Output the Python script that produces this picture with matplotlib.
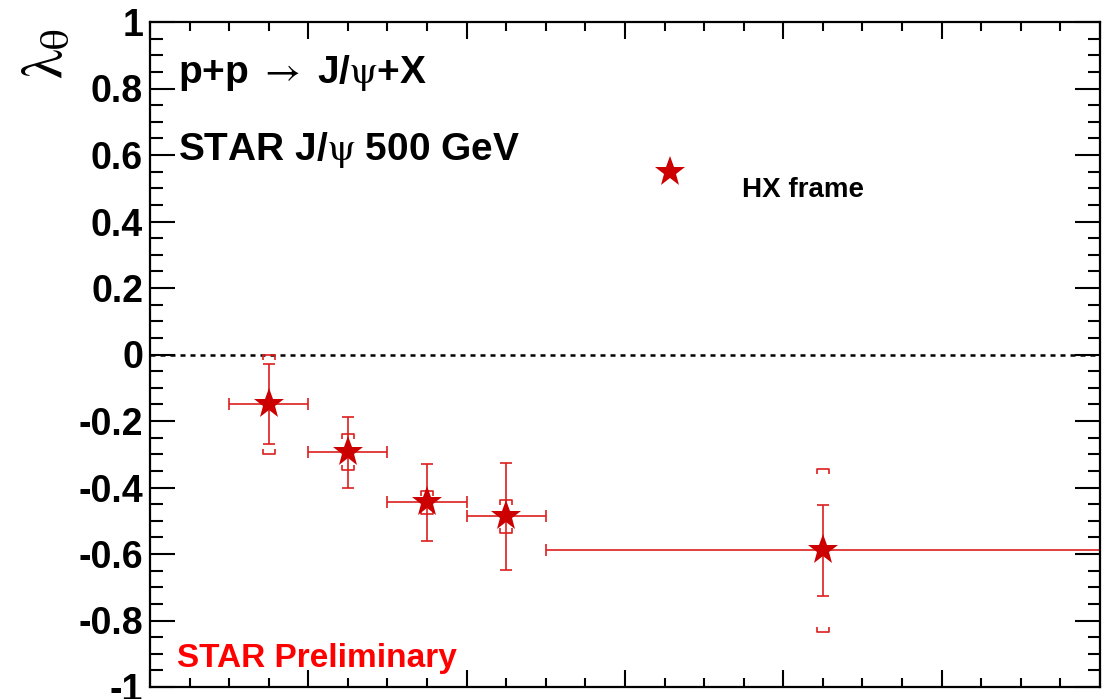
#!/usr/bin/env python3
import matplotlib
matplotlib.use('Agg')
import matplotlib.pyplot as plt
from matplotlib.path import Path
from matplotlib.ticker import MultipleLocator, FixedLocator, FixedFormatter

# J/psi lambda_theta in HX frame, p+p 500 GeV
pt_center = [1.5, 2.5, 3.5, 4.5, 8.5]
pt_halfwidth = [0.5, 0.5, 0.5, 0.5, 3.5]
lam_theta = [-0.150, -0.294, -0.445, -0.487, -0.589]
stat_err = [0.120, 0.107, 0.115, 0.160, 0.137]
sys_err = [0.150, 0.054, 0.035, 0.050, 0.245]

y_ticks = [-1, -0.8, -0.6, -0.4, -0.2, 0, 0.2, 0.4, 0.6, 0.8, 1]
y_tick_labels = ['-1', '-0.8', '-0.6', '-0.4', '-0.2', '0', '0.2', '0.4', '0.6', '0.8', '1']

plt.rcParams['font.family'] = ['Liberation Sans', 'DejaVu Sans']
plt.rcParams['font.weight'] = 'normal'
plt.rcParams['mathtext.fontset'] = 'stix'

star_color = '#cc0000'
err_color = '#dd1f1f'

fig = plt.figure(figsize=(11.02, 6.99), dpi=100)
ax = fig.add_axes([150 / 1102, 12 / 699, 950 / 1102, 665 / 699])

ax.set_xlim(0, 12)
ax.set_ylim(-1, 1)

# zero line
ax.axhline(0, color='black', linestyle=(0, (2, 2)), linewidth=1.8, zorder=1)

# statistical errors
ax.errorbar(pt_center, lam_theta, xerr=pt_halfwidth, yerr=stat_err,
            fmt='none', ecolor=err_color, elinewidth=1.2, capsize=4.3,
            capthick=1.2, zorder=2)

# systematic brackets
top_bracket = Path([(-1, -0.85), (-1, 0), (1, 0), (1, -0.85)],
                   [Path.MOVETO, Path.LINETO, Path.LINETO, Path.LINETO])
bot_bracket = Path([(-1, 0.85), (-1, 0), (1, 0), (1, 0.85)],
                   [Path.MOVETO, Path.LINETO, Path.LINETO, Path.LINETO])
sys_hi = [v + e for v, e in zip(lam_theta, sys_err)]
sys_lo = [v - e for v, e in zip(lam_theta, sys_err)]
ax.plot(pt_center, sys_hi, linestyle='none', marker=top_bracket, markersize=9,
        markerfacecolor='none', markeredgecolor=err_color, markeredgewidth=1.2, zorder=2)
ax.plot(pt_center, sys_lo, linestyle='none', marker=bot_bracket, markersize=9,
        markerfacecolor='none', markeredgecolor=err_color, markeredgewidth=1.2, zorder=2)

ax.plot(pt_center, lam_theta, linestyle='none', marker='*', markersize=23,
        color=star_color, markeredgewidth=0, zorder=3)

# legend key
ax.plot([0.547], [0.774], transform=ax.transAxes, linestyle='none', marker='*',
        markersize=23, color=star_color, markeredgewidth=0)
ax.text(0.623, 0.737, 'HX frame', transform=ax.transAxes, fontsize=20,
        fontweight='bold', ha='left', va='baseline')

# texts
ax.text(0.0295, 0.908, r'p+p $\rightarrow$ J/$\mathrm{\psi}$+X', transform=ax.transAxes,
        fontsize=28, fontweight='bold', ha='left', va='baseline')
ax.text(0.0295, 0.7925, r'STAR J/$\mathrm{\psi}$ 500 GeV', transform=ax.transAxes,
        fontsize=28, fontweight='bold', ha='left', va='baseline')
ax.text(0.0285, 0.030, 'STAR Preliminary', transform=ax.transAxes, color='#ff0000',
        fontsize=24, fontweight='bold', ha='left', va='baseline')

fig.text(47 / 1102, 1 - 53 / 699, r'$\mathrm{\lambda}_{\mathrm{\theta}}$', rotation=90,
         fontsize=42, fontweight='normal', ha='center', va='center')

# ticks
ax.xaxis.set_major_locator(MultipleLocator(2))
ax.xaxis.set_minor_locator(MultipleLocator(0.5))
ax.yaxis.set_major_locator(FixedLocator(y_ticks))
ax.yaxis.set_major_formatter(FixedFormatter(y_tick_labels))
ax.yaxis.set_minor_locator(MultipleLocator(0.05))

ax.tick_params(axis='x', which='major', direction='in', length=12, width=1.5,
               top=True, bottom=True, labelbottom=False)
ax.tick_params(axis='x', which='minor', direction='in', length=6.5, width=1.5,
               top=True, bottom=True)
ax.tick_params(axis='y', which='major', direction='in', length=18, width=1.5,
               left=True, right=True, labelsize=27, pad=5)
ax.tick_params(axis='y', which='minor', direction='in', length=9, width=1.5,
               left=True, right=True)
for lab in ax.get_yticklabels():
    lab.set_fontweight('bold')
for sp in ax.spines.values():
    sp.set_linewidth(1.6)

fig.savefig('out.png', dpi=100)
